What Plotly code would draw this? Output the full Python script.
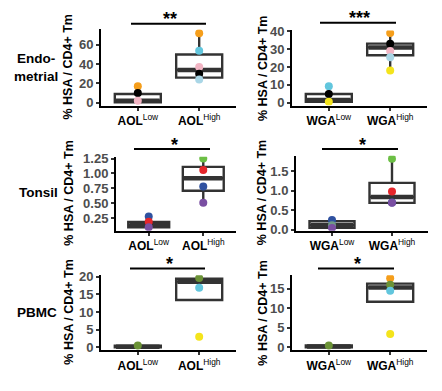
import plotly.graph_objects as go

# The page body adds an 8px margin, so the figure is drawn 8px in from the
# top-left corner; all reference pixel positions are shifted by OFF.
OFF = 8
W, H = 442 - OFF, 391 - OFF
FONT = "Liberation Sans, Arial, sans-serif"

# ---------------- data ----------------
groups = ["Low", "High"]
lectins = ["AOL", "WGA", "AOL", "WGA", "AOL", "WGA"]
tissues = ["Endo-<br>metrial", "Tonsil", "PBMC"]
signif = ["**", "***", "*", "*", "*", "*"]

c_or, c_sky, c_pink, c_blk, c_pale, c_yel = "#F59E1B", "#62C6DD", "#F2B5C4", "#000000", "#A9D6E6", "#F4E41C"
c_grn, c_red, c_blu, c_pur = "#6CBF45", "#E5262B", "#2F51A0", "#7A4FA2"
c_olv = "#6B9236"

p1_low_vals = [17, 10, 2];             p1_low_cols = [c_or, c_blk, c_pink]
p1_high_vals = [72, 54, 37, 30, 24];   p1_high_cols = [c_or, c_sky, c_pink, c_blk, c_pale]
p2_low_vals = [9.2, 4.9, 0.5];         p2_low_cols = [c_sky, c_blk, c_yel]
p2_high_vals = [39, 33, 29, 25.5, 18]; p2_high_cols = [c_or, c_blk, c_pink, c_pale, c_yel]
p3_low_vals = [0.28, 0.19, 0.10];      p3_low_cols = [c_blu, c_red, c_pur]
p3_high_vals = [1.25, 1.06, 0.78, 0.51]; p3_high_cols = [c_grn, c_red, c_blu, c_pur]
p4_low_vals = [0.25, 0.12, 0.05];      p4_low_cols = [c_blu, "#6F9A86", c_pur]
p4_high_vals = [1.82, 0.98, 0.70, 0.69]; p4_high_cols = [c_grn, c_red, c_blu, c_pur]
p5_low_vals = [0.5];                   p5_low_cols = [c_olv]
p5_high_vals = [19.6, 16.9, 3.0];      p5_high_cols = [c_olv, c_sky, c_yel]
p6_low_vals = [0.5];                   p6_low_cols = [c_olv]
p6_high_vals = [17.7, 16.0, 14.5, 3.4]; p6_high_cols = [c_or, c_olv, c_sky, c_yel]

# box statistics: [low, high]
p1_q1, p1_med, p1_q3, p1_lo, p1_hi = [0.5, 26], [2, 34], [9, 50], [0, 24], [17, 72]
p2_q1, p2_med, p2_q3, p2_lo, p2_hi = [0.5, 26.6], [1.5, 31], [4.9, 33.1], [0, 18], [9.2, 39]
p3_q1, p3_med, p3_q3, p3_lo, p3_hi = [0.10, 0.71], [0.14, 0.92], [0.19, 1.11], [0.09, 0.51], [0.28, 1.25]
p4_q1, p4_med, p4_q3, p4_lo, p4_hi = [0.05, 0.69], [0.12, 0.84], [0.22, 1.20], [0.03, 0.69], [0.25, 1.82]
p5_q1, p5_med, p5_q3, p5_lo, p5_hi = [0.0, 13.4], [0.2, 18.6], [0.5, 19.4], [0.0, 13.4], [0.6, 19.6]
p6_q1, p6_med, p6_q3, p6_lo, p6_hi = [0.0, 11.65], [0.2, 15.3], [0.5, 16.3], [0.0, 11.65], [0.6, 17.7]

p1_ticks = [0, 20, 40, 60]
p2_ticks = [0, 10, 20, 30, 40]
p3_ticks = [0.25, 0.50, 0.75, 1.00, 1.25]; p3_ticklabels = ["0.25", "0.50", "0.75", "1.00", "1.25"]
p4_ticks = [0.0, 0.5, 1.0, 1.5];            p4_ticklabels = ["0.0", "0.5", "1.0", "1.5"]
p5_ticks = [0, 5, 10, 15, 20]
p6_ticks = [0, 5, 10, 15]

panels = [
    dict(lv=p1_low_vals, lc=p1_low_cols, hv=p1_high_vals, hc=p1_high_cols,
         q1=p1_q1, med=p1_med, q3=p1_q3, lo=p1_lo, hi=p1_hi, ticks=p1_ticks, tl=[str(t) for t in p1_ticks]),
    dict(lv=p2_low_vals, lc=p2_low_cols, hv=p2_high_vals, hc=p2_high_cols,
         q1=p2_q1, med=p2_med, q3=p2_q3, lo=p2_lo, hi=p2_hi, ticks=p2_ticks, tl=[str(t) for t in p2_ticks]),
    dict(lv=p3_low_vals, lc=p3_low_cols, hv=p3_high_vals, hc=p3_high_cols,
         q1=p3_q1, med=p3_med, q3=p3_q3, lo=p3_lo, hi=p3_hi, ticks=p3_ticks, tl=p3_ticklabels),
    dict(lv=p4_low_vals, lc=p4_low_cols, hv=p4_high_vals, hc=p4_high_cols,
         q1=p4_q1, med=p4_med, q3=p4_q3, lo=p4_lo, hi=p4_hi, ticks=p4_ticks, tl=p4_ticklabels),
    dict(lv=p5_low_vals, lc=p5_low_cols, hv=p5_high_vals, hc=p5_high_cols,
         q1=p5_q1, med=p5_med, q3=p5_q3, lo=p5_lo, hi=p5_hi, ticks=p5_ticks, tl=[str(t) for t in p5_ticks]),
    dict(lv=p6_low_vals, lc=p6_low_cols, hv=p6_high_vals, hc=p6_high_cols,
         q1=p6_q1, med=p6_med, q3=p6_q3, lo=p6_lo, hi=p6_hi, ticks=p6_ticks, tl=[str(t) for t in p6_ticks]),
]

# ---------------- layout geometry (reference pixels) ----------------
geom = [  # left, right, top, bottom
    (101, 236, 23, 102), (292, 427, 24, 102),
    (116, 236, 155, 232), (296, 428, 154, 232),
    (101, 236, 278, 356), (292, 427, 278, 356),
]
yranges = [[-3, 76], [-1.6, 40.5], [0.04, 1.282], [-0.025, 1.897], [-0.82, 20.44], [-0.74, 18.47]]
sig_lines = [(131, 206, 17), (320, 396, 16), (134, 210, 147), (322, 398, 147), (130, 205, 271), (318, 394, 271)]
star_pos = [(170, 12), (359, 11), (174, 143), (362, 143), (169, 266), (357, 266)]
ytitle_x = [68, 263, 69, 262, 69, 263]
row_label_pos = [(36, 63), (38, 192), (37, 317)]

def px(x):
    return (x - OFF) / W

def py(y):
    return 1 - (y - OFF) / H

BOX_W = 0.75
xpos = [1, 2]

fig = go.Figure()
layout = dict(width=W, height=H, margin=dict(l=0, r=0, t=0, b=0),
              paper_bgcolor="white", plot_bgcolor="white", showlegend=False,
              font=dict(family=FONT, color="black"))
annotations = []
shapes = []

for i, p in enumerate(panels):
    k = "" if i == 0 else str(i + 1)
    xa, ya = "x" + k, "y" + k
    l, r, t, b = geom[i]
    for j in range(2):
        fig.add_trace(go.Box(
            x=[xpos[j]], q1=[p["q1"][j]], median=[p["med"][j]], q3=[p["q3"][j]],
            lowerfence=[p["lo"][j]], upperfence=[p["hi"][j]],
            width=BOX_W, whiskerwidth=0, boxpoints=False,
            fillcolor="white", line=dict(color="#333333", width=2.4),
            xaxis=xa, yaxis=ya, hoverinfo="skip"))
        fig.add_trace(go.Scatter(
            x=[xpos[j] - BOX_W / 2 + 0.02, xpos[j] + BOX_W / 2 - 0.02], y=[p["med"][j], p["med"][j]],
            mode="lines", line=dict(color="#333333", width=4.5), xaxis=xa, yaxis=ya, hoverinfo="skip"))
    for j, (vals, cols) in enumerate([(p["lv"], p["lc"]), (p["hv"], p["hc"])]):
        fig.add_trace(go.Scatter(
            x=[xpos[j]] * len(vals), y=vals, mode="markers",
            marker=dict(color=cols, size=8, line=dict(width=0)),
            xaxis=xa, yaxis=ya, hoverinfo="skip"))

    lect = lectins[i]
    layout["xaxis" + k] = dict(
        domain=[px(l), px(r)], anchor=ya, range=[0.4, 2.6],
        tickvals=xpos, ticktext=[f"<b>{lect}</b><sup>{g}</sup>" for g in groups],
        tickfont=dict(size=12, color="black", family=FONT),
        showline=True, linecolor="black", linewidth=2, ticks="outside",
        ticklen=3, tickwidth=1.5, tickcolor="#333333", showgrid=False, zeroline=False, fixedrange=True)
    layout["yaxis" + k] = dict(
        domain=[py(b), py(t)], anchor=xa, range=yranges[i],
        tickvals=p["ticks"], ticktext=p["tl"],
        tickfont=dict(size=13, color="#4D4D4D", family=FONT, weight="bold"),
        showline=True, linecolor="black", linewidth=2, ticks="outside",
        ticklen=3, tickwidth=1.5, tickcolor="#333333", showgrid=False, zeroline=False, fixedrange=True)

    annotations.append(dict(
        x=px(ytitle_x[i]), y=py((t + b) / 2), xref="paper", yref="paper",
        text="<b>% HSA / CD4+ Tm</b>", textangle=-90, showarrow=False,
        font=dict(size=12.5, color="black", family=FONT), xanchor="center", yanchor="middle"))
    x0, x1, ys = sig_lines[i]
    shapes.append(dict(type="line", xref="paper", yref="paper", x0=px(x0), x1=px(x1), y0=py(ys), y1=py(ys),
                       line=dict(color="black", width=2)))
    sx, sy = star_pos[i]
    annotations.append(dict(
        x=px(sx), y=py(sy), xref="paper", yref="paper", text=f"<b>{signif[i]}</b>", showarrow=False,
        font=dict(size=18, color="black", family=FONT), xanchor="center", yanchor="middle"))

for (lx, ly), lab in zip(row_label_pos, tissues):
    annotations.append(dict(
        x=px(lx), y=py(ly), xref="paper", yref="paper", text=f"<b>{lab}</b>", showarrow=False,
        font=dict(size=13.5, color="black", family=FONT), xanchor="center", yanchor="middle", align="center"))

layout["annotations"] = annotations
layout["shapes"] = shapes
fig.update_layout(**layout)
fig.write_html("out.html")
